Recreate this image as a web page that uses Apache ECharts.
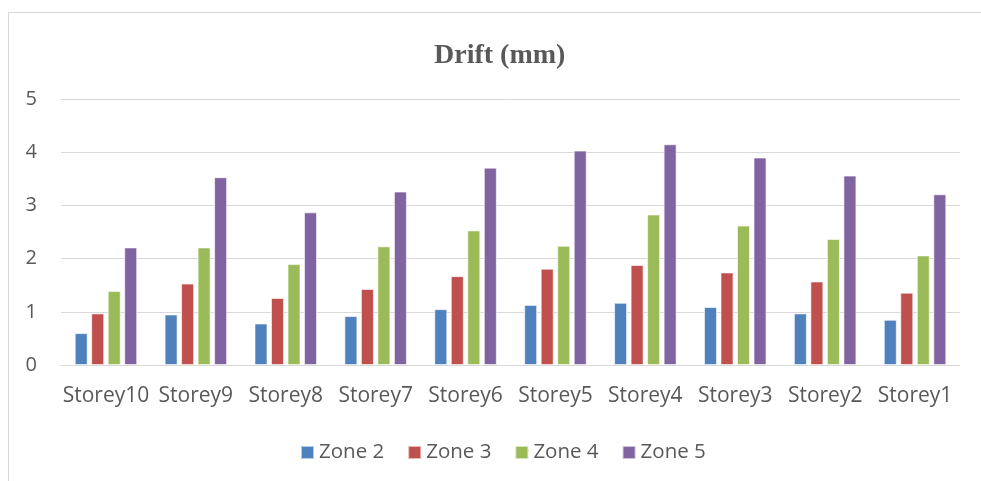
<!DOCTYPE html>
<html>
<head>
<meta charset="utf-8">
<script src="https://cdn.jsdelivr.net/npm/echarts@6/dist/echarts.min.js"></script>
<style>
  html, body { margin: 0; padding: 0; background: #fff; }
  #frame { position: absolute; left: 8px; top: 12px; width: 990px; height: 480px; border: 1px solid #d9d9d9; box-sizing: border-box; }
  #chart { position: absolute; left: 0; top: 0; width: 981px; height: 481px; }
</style>
</head>
<body>
<div id="frame"></div>
<div id="chart"></div>
<script>
// Storey drift per zone (mm)
const categories = ['Storey10', 'Storey9', 'Storey8', 'Storey7', 'Storey6', 'Storey5', 'Storey4', 'Storey3', 'Storey2', 'Storey1'];
const zone2 = [0.60, 0.95, 0.78, 0.92, 1.05, 1.13, 1.17, 1.09, 0.97, 0.85];
const zone3 = [0.97, 1.53, 1.26, 1.43, 1.67, 1.81, 1.88, 1.74, 1.57, 1.36];
const zone4 = [1.39, 2.21, 1.90, 2.23, 2.53, 2.24, 2.83, 2.62, 2.37, 2.06];
const zone5 = [2.21, 3.53, 2.87, 3.26, 3.71, 4.03, 4.15, 3.90, 3.56, 3.21];
const seriesNames = ['Zone 2', 'Zone 3', 'Zone 4', 'Zone 5'];
const colors = ['#4F81BD', '#C0504D', '#9BBB59', '#8064A2'];

const labelFont = "'Open Sans', 'Liberation Sans', sans-serif";

const chart = echarts.init(document.getElementById('chart'), null, { renderer: 'canvas' });

const makeSeries = (name, data, i) => ({
  name: name,
  type: 'bar',
  data: data,
  barWidth: 13,
  barGap: '27%',
  itemStyle: { color: colors[i], borderColor: 'rgba(255,255,255,0.6)', borderWidth: 1 },
  emphasis: { disabled: true }
});

chart.setOption({
  animation: false,
  backgroundColor: 'transparent',
  color: colors,
  title: {
    text: 'Drift (mm)',
    left: 429,
    top: 37,
    textStyle: {
      fontFamily: "'Liberation Serif', 'Times New Roman', serif",
      fontSize: 28,
      fontWeight: 'bold',
      color: '#595959'
    }
  },
  grid: { left: 61, right: 21, top: 99, bottom: 116, containLabel: false },
  legend: {
    top: 437,
    left: 295,
    itemWidth: 13,
    itemHeight: 13,
    itemGap: 23,
    icon: 'rect',
    textStyle: { fontFamily: labelFont, fontSize: 20.5, color: '#595959' },
    data: seriesNames
  },
  xAxis: {
    type: 'category',
    data: categories,
    axisLine: { show: true, lineStyle: { color: '#d9d9d9', width: 1 } },
    axisTick: { show: false },
    axisLabel: { interval: 0, fontFamily: labelFont, fontSize: 21, color: '#595959', margin: 21 }
  },
  yAxis: {
    type: 'value',
    min: 0,
    max: 5,
    interval: 1,
    axisLine: { show: false },
    axisTick: { show: false },
    splitLine: { lineStyle: { color: '#d9d9d9', width: 1 } },
    axisLabel: { fontFamily: labelFont, fontSize: 20, color: '#595959', margin: 24 }
  },
  series: [
    makeSeries(seriesNames[0], zone2, 0),
    makeSeries(seriesNames[1], zone3, 1),
    makeSeries(seriesNames[2], zone4, 2),
    makeSeries(seriesNames[3], zone5, 3)
  ]
});
</script>
</body>
</html>
